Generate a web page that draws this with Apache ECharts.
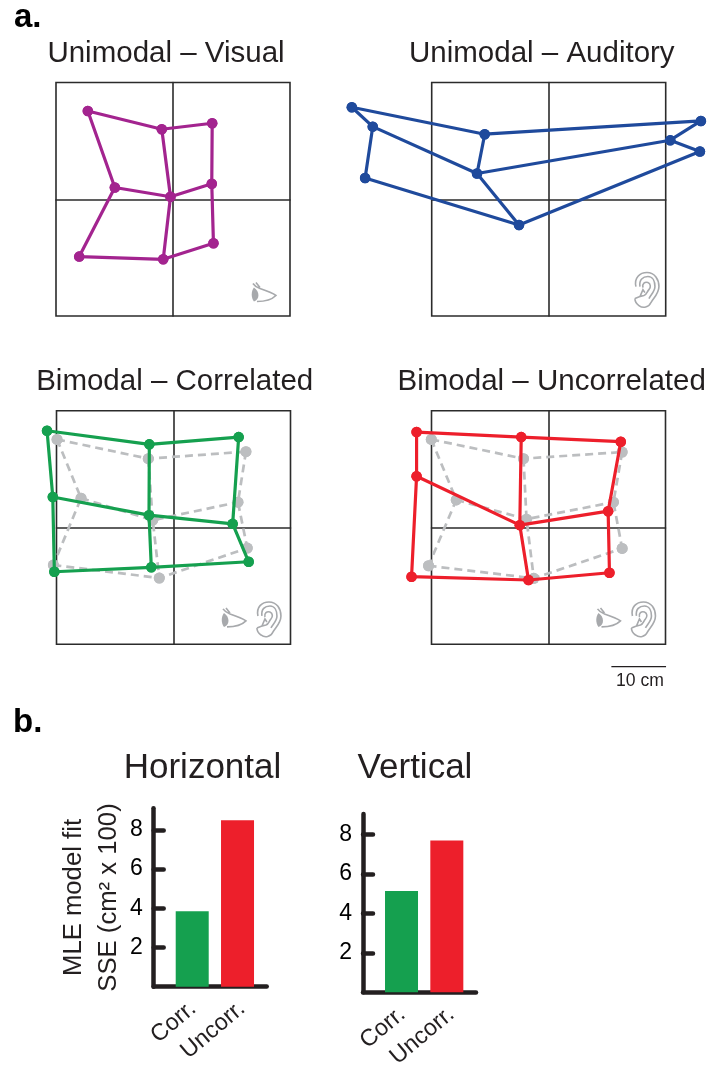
<!DOCTYPE html>
<html>
<head>
<meta charset="utf-8">
<style>html,body{margin:0;padding:0;background:#fff}#c{width:707px;height:1068px}</style>
<script src="https://cdn.jsdelivr.net/npm/echarts@6/dist/echarts.min.js"></script>
</head>
<body>
<div id="c"></div>
<script>
// Node positions in cm, row by row: TL TM TR / ML MM MR / BL BM BR
const visualX = [-15.58,-2.05,7.17, -10.64,-0.46,7.09, -17.15,-1.79,7.40];
const visualY = [16.18,12.83,13.93, 2.16,0.46,2.83, -10.51,-11.01,-8.08];
const auditoryX = [-36.01,-11.70,27.84, -32.18,-13.11,22.23, -33.58,-5.43,27.66];
const auditoryY = [16.86,11.92,14.35, 13.31,4.72,10.82, 3.88,-4.72,8.74];
const corrX = [-23.13,-4.42,11.92, -22.08,-4.48,10.82, -21.79,-4.06,13.75];
const corrY = [17.73,15.23,16.56, 5.59,2.25,0.66, -8.12,-7.31,-6.29];
const corrPredX = [-21.30,-4.61,13.25, -16.91,-3.80,11.79, -21.97,-2.60,13.49];
const corrPredY = [16.14,12.61,13.89, 5.36,1.33,4.63, -6.89,-9.27,-3.78];
const uncorrX = [-24.13,-4.99,13.22, -24.13,-5.25,10.91, -25.05,-3.66,11.15];
const uncorrY = [17.48,16.56,15.72, 9.38,0.42,2.98, -9.03,-9.63,-8.30];
const uncorrPredX = [-21.44,-4.57,13.47, -16.87,-4.02,11.88, -21.94,-2.69,13.47];
const uncorrPredY = [16.14,12.61,13.82, 5.05,1.52,4.63, -7.02,-9.32,-3.84];
const boxHalf = 21.4;
const wireHalf = 40;
const scaleBarX = [11.5, 21.5];
const scaleBarY = [-25.5, -25.5];

const barCategories = ['Corr.', 'Uncorr.'];
const horizontalSSE = [3.85, 8.49];
const verticalSSE = [5.14, 7.71];
const sseTicks = [2, 4, 6, 8];

const FONT = '"Liberation Sans", Arial, sans-serif';
const INK = '#231f20';
const PURPLE = '#a3248f', BLUE = '#1f4a9c', GREEN = '#15a04f', RED = '#ed1f2b', GREY = '#bcbec0';
const links = [[0,1,2],[3,4,5],[6,7,8],[0,3,6],[1,4,7],[2,5,8]];
const WIRE_AXIS = 6; // wire grids come after the four boxes and two bar charts

function wire(xs, ys, panel, color, dashed, z) {
  const data = [];
  links.forEach((l, i) => {
    if (i) data.push(['-', '-']);
    l.forEach(n => data.push([xs[n], ys[n]]));
  });
  return {
    type: 'line', xAxisIndex: WIRE_AXIS + panel, yAxisIndex: WIRE_AXIS + panel, data, z, silent: true,
    animation: false, connectNulls: false, showSymbol: true, symbol: 'circle',
    symbolSize: dashed ? 11 : 10.5,
    itemStyle: { color },
    lineStyle: { color, width: dashed ? 2.7 : 3.2, type: dashed ? [8, 5] : 'solid' }
  };
}

const BOX_W = 234, BOX_H = 233.5;
const panels = [
  { left: 56, top: 82.5 }, { left: 431.7, top: 82.5 },
  { left: 56.5, top: 410.7 }, { left: 431.5, top: 410.7 }
];
const grids = panels.map(p => ({
  left: p.left, top: p.top, width: BOX_W, height: BOX_H, show: true, outerBoundsMode: 'none',
  borderColor: '#2b2b2b', borderWidth: 1.6, backgroundColor: 'transparent', containLabel: false
}));
const plainAxis = (_, gridIndex) => ({
  gridIndex, type: 'value', min: -boxHalf, max: boxHalf,
  axisLine: { show: true, onZero: true, lineStyle: { color: '#2b2b2b', width: 1.6 } },
  axisTick: { show: false }, axisLabel: { show: false }, splitLine: { show: false }
});
const xAxes = panels.map(plainAxis);
const yAxes = panels.map(plainAxis);

// bar panels
const barPanels = [
  { left: 153.7, top: 808.3, height: 178.4, max: 9.1, values: horizontalSSE, name: 'MLE model fit\nSSE (cm² x 100)' },
  { left: 363, top: 814, height: 178.3, max: 9.05, values: verticalSSE, name: '' }
];
barPanels.forEach((b, i) => {
  grids.push({ left: b.left, top: b.top, width: 113, height: b.height, containLabel: false, outerBoundsMode: 'none' });
  xAxes.push({
    gridIndex: 4 + i, type: 'value', min: 0.15, max: 2.644,
    axisLine: { show: true, onZero: false, lineStyle: { color: INK, width: 4.5, cap: 'round' } },
    axisTick: { show: false },
    axisLabel: {
      show: true, customValues: [1.02, 2.1], rotate: 40, margin: 19,
      formatter: v => barCategories[Math.round(v) - 1] || '',
      color: INK, fontFamily: FONT, fontSize: 23.5
    },
    splitLine: { show: false }
  });
  yAxes.push({
    gridIndex: 4 + i, type: 'value', min: 0, max: b.max,
    name: b.name, nameLocation: 'middle', nameRotate: 90, nameGap: 27,
    nameTextStyle: { color: INK, fontFamily: FONT, fontSize: 25.7, lineHeight: 35 },
    axisLine: { show: true, onZero: false, lineStyle: { color: INK, width: 4.5, cap: 'round' } },
    axisTick: { show: true, inside: true, length: 10, customValues: sseTicks, lineStyle: { color: INK, width: 4.5, cap: 'round' } },
    axisLabel: { show: true, customValues: sseTicks, margin: 11, color: '#000', fontFamily: FONT, fontSize: 23 },
    splitLine: { show: false }
  });
});

// Invisible, wider cartesian systems on the same centre and scale, so wires may leave the box
panels.forEach((p, i) => {
  const k = wireHalf / boxHalf;
  grids.push({
    left: p.left + BOX_W / 2 * (1 - k), top: p.top + BOX_H / 2 * (1 - k),
    width: BOX_W * k, height: BOX_H * k, containLabel: false, outerBoundsMode: 'none'
  });
  const hidden = { gridIndex: 6 + i, type: 'value', min: -wireHalf, max: wireHalf, show: false };
  xAxes.push({ ...hidden });
  yAxes.push({ ...hidden });
});

const barColors = [GREEN, RED];
const barSeries = barPanels.map((b, i) => ({
  type: 'bar', xAxisIndex: 4 + i, yAxisIndex: 4 + i, barWidth: 33, silent: true, animation: false, z: 1,
  data: b.values.map((v, k) => ({ value: [k + 1, v], itemStyle: { color: barColors[k] } }))
}));

const titleAt = (text, cx, top, size = 29.5, extra = {}) => ({
  text, left: cx, top, textAlign: 'center', padding: 0,
  textStyle: { color: INK, fontFamily: FONT, fontSize: size, fontWeight: 'normal', ...extra }
});
const titles = [
  titleAt('Unimodal – Visual', 166, 39),
  titleAt('Unimodal – Auditory', 541.8, 39),
  titleAt('Bimodal – Correlated', 174.7, 367),
  titleAt('Bimodal – Uncorrelated', 551.7, 367),
  titleAt('Horizontal', 202.5, 751, 35),
  titleAt('Vertical', 415, 751, 35),
  titleAt('10 cm', 640, 672, 17.6),
  { text: 'a.', left: 14, top: 1, padding: 0, textStyle: { color: '#000', fontFamily: FONT, fontSize: 33, fontWeight: 'bold' } },
  { text: 'b.', left: 13, top: 706, padding: 0, textStyle: { color: '#000', fontFamily: FONT, fontSize: 33, fontWeight: 'bold' } }
];

// Sense icons: top-left corner of each icon in cm, and kind (0 eye, 1 ear)
const EYE_LINE = 'M1 1 C3 4 5 5 8 6 C14 8 20 10 24 13 C20 17 12 19 5 19 M4 0 L8 5';
const EYE_IRIS = 'M2 5 C-1 9 -1 15 2 19 C8 17 8 9 2 5 Z';
const EAR_LINE = 'M2 14 C0 5 6 0 13 0 C21 0 25 7 25 14 C25 21 20 25 17 30 C15 35 9 36 5 33 C2 31 1 29 1 26 ' +
  'M6 14 C5 7 9 4 14 4 C19 4 21 9 21 14 C21 19 17 22 15 26 ' +
  'M9 15 C8 11 11 9 14 10 C17 11 17 15 15 17 C13 19 13 22 10 23 L6 24 L9 17 L11 20 M1 26 L6 24';
const ICON = '#a7a9ac';
const iconSeries = (panel, spots) => ({
  type: 'custom', xAxisIndex: WIRE_AXIS + panel, yAxisIndex: WIRE_AXIS + panel, silent: true, animation: false, z: 1,
  data: spots,
  renderItem: (params, api) => {
    const p = api.coord([api.value(0), api.value(1)]);
    const line = { fill: null, stroke: ICON, lineWidth: 1.6 };
    const children = api.value(2) === 0
      ? [{ type: 'path', shape: { pathData: EYE_LINE }, style: line },
         { type: 'path', shape: { pathData: EYE_IRIS }, style: { fill: ICON } }]
      : [{ type: 'path', shape: { pathData: EAR_LINE }, style: line }];
    return { type: 'group', x: p[0], y: p[1], children };
  }
});

const chart = echarts.init(document.getElementById('c'), null, { renderer: 'canvas' });
chart.setOption({
  animation: false,
  backgroundColor: '#fff',
  title: titles,
  grid: grids,
  xAxis: xAxes,
  yAxis: yAxes,
  series: [
    iconSeries(0, [[14.44, -15.26, 0]]),
    iconSeries(1, [[15.59, -13.44, 1]]),
    iconSeries(2, [[8.87, -14.75, 0], [15.08, -13.66, 1]]),
    iconSeries(3, [[8.78, -14.75, 0], [14.99, -13.66, 1]]),
    wire(visualX, visualY, 0, PURPLE, false, 3),
    wire(auditoryX, auditoryY, 1, BLUE, false, 3),
    wire(corrPredX, corrPredY, 2, GREY, true, 2),
    wire(corrX, corrY, 2, GREEN, false, 3),
    wire(uncorrPredX, uncorrPredY, 3, GREY, true, 2),
    wire(uncorrX, uncorrY, 3, RED, false, 3),
    {
      type: 'line', xAxisIndex: WIRE_AXIS + 3, yAxisIndex: WIRE_AXIS + 3, silent: true, showSymbol: false, animation: false,
      data: scaleBarX.map((x, i) => [x, scaleBarY[i]]), lineStyle: { color: INK, width: 1.2 }
    },
    ...barSeries
  ]
});
</script>
</body>
</html>
